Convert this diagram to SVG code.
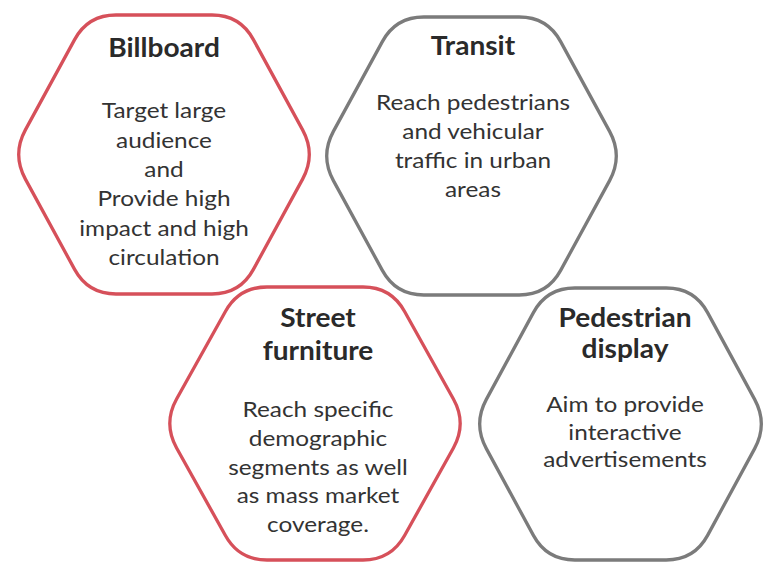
<svg xmlns="http://www.w3.org/2000/svg" width="766" height="562" viewBox="0 0 766 562">
<style>
.hex{fill:none;stroke-width:3.3;stroke-linejoin:round}
.red{stroke:#d6505a}
.gray{stroke:#7b7b7b}
.title{font-family:Lato,"Liberation Sans",sans-serif;font-weight:bold;font-size:26px;fill:#2a2a2a;text-anchor:middle}
.body{font-family:Lato,"Liberation Sans",sans-serif;font-size:21px;fill:#333;text-anchor:middle}
</style>
<rect width="766" height="562" fill="#fff"/>
<g id="billboard">
<path class="hex red" d="M25.4,129.9 L74.6,39.6 Q88,15 116,15 L212,15 Q240,15 253.4,39.6 L302.6,129.9 Q316,154.5 302.6,179.1 L253.4,269.4 Q240,294 212,294 L116,294 Q88,294 74.6,269.4 L25.4,179.1 Q12,154.5 25.4,129.9 Z"/>
<g transform="translate(164,0) scale(1.08,1)"><text class="title" x="0" y="57">Billboard</text></g>
<g transform="translate(164,0) scale(1.16,1)">
<text class="body" x="0" y="118">Target large</text>
<text class="body" x="0" y="148">audience</text>
<text class="body" x="0" y="177">and</text>
<text class="body" x="0" y="206">Provide high</text>
<text class="body" x="0" y="236">impact and high</text>
<text class="body" x="0" y="265">circulation</text>
</g>
</g>
<g id="transit">
<path class="hex gray" d="M333.4,131.4 L382.35,41.6 Q395.75,17 423.75,17 L519.25,17 Q547.25,17 560.65,41.6 L609.6,131.4 Q623,156 609.6,180.6 L560.65,270.4 Q547.25,295 519.25,295 L423.75,295 Q395.75,295 382.35,270.4 L333.4,180.6 Q320,156 333.4,131.4 Z"/>
<g transform="translate(473,0) scale(1.08,1)"><text class="title" x="0" y="55">Transit</text></g>
<g transform="translate(473,0) scale(1.16,1)">
<text class="body" x="0" y="110">Reach pedestrians</text>
<text class="body" x="0" y="139">and vehicular</text>
<text class="body" x="0" y="168">traffic in urban</text>
<text class="body" x="0" y="197">areas</text>
</g>
</g>
<g id="street-furniture">
<path class="hex red" d="M176.6,399 L225.4,311.5 Q239,287 267,287 L363,287 Q391,287 404.6,311.5 L453.4,399 Q467,423.5 453.4,448 L404.6,535.5 Q391,560 363,560 L267,560 Q239,560 225.4,535.5 L176.6,448 Q163,423.5 176.6,399 Z"/>
<g transform="translate(318,0) scale(1.08,1)">
<text class="title" x="0" y="327">Street</text>
<text class="title" x="0" y="360">furniture</text>
</g>
<g transform="translate(318,0) scale(1.16,1)">
<text class="body" x="0" y="417">Reach specific</text>
<text class="body" x="0" y="446">demographic</text>
<text class="body" x="0" y="475">segments as well</text>
<text class="body" x="0" y="503">as mass market</text>
<text class="body" x="0" y="532">coverage.</text>
</g>
</g>
<g id="pedestrian-display">
<path class="hex gray" d="M486.35,399.4 L533.4,312.6 Q546.75,288 574.75,288 L666.25,288 Q694.25,288 707.6,312.6 L754.65,399.4 Q768,424 754.65,448.6 L707.6,535.4 Q694.25,560 666.25,560 L574.75,560 Q546.75,560 533.4,535.4 L486.35,448.6 Q473,424 486.35,399.4 Z"/>
<g transform="translate(625,0) scale(1.08,1)">
<text class="title" x="0" y="327">Pedestrian</text>
<text class="title" x="0" y="358">display</text>
</g>
<g transform="translate(625,0) scale(1.16,1)">
<text class="body" x="0" y="412">Aim to provide</text>
<text class="body" x="0" y="440">interactive</text>
<text class="body" x="0" y="467">advertisements</text>
</g>
</g>
<g id="connectors"/>
</svg>
